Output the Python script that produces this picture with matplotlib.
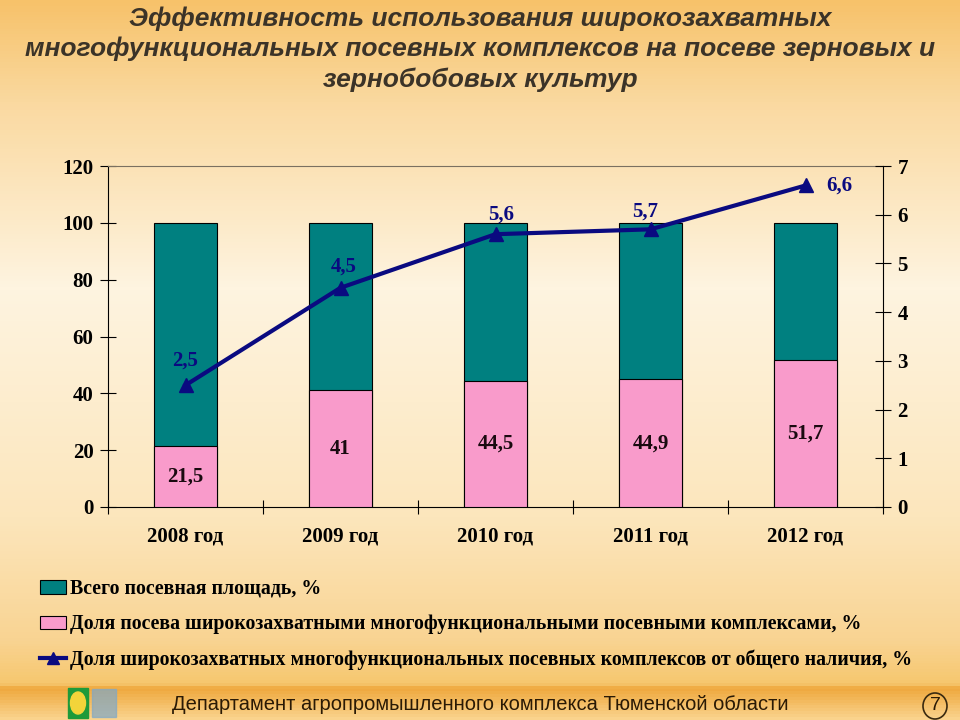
import matplotlib.pyplot as plt
import numpy as np
from matplotlib.colors import LinearSegmentedColormap
from matplotlib.lines import Line2D
from matplotlib.patches import Patch, Rectangle, Ellipse

years = ['2008 год', '2009 год', '2010 год', '2011 год', '2012 год']
total_area = [100, 100, 100, 100, 100]
share_sown = [21.5, 41, 44.5, 44.9, 51.7]
share_fleet = [2.5, 4.5, 5.6, 5.7, 6.6]

share_sown_labels = ['21,5', '41', '44,5', '44,9', '51,7']
share_fleet_labels = ['2,5', '4,5', '5,6', '5,7', '6,6']

legend_labels = [
    'Всего посевная площадь, %',
    'Доля посева широкозахватными многофункциональными посевными комплексами, %',
    'Доля широкозахватных многофункциональных посевных комплексов от общего наличия, %',
]
title = ('Эффективность использования широкозахватных\n'
         'многофункциональных посевных комплексов на посеве зерновых и\n'
         'зернобобовых культур')
footer = 'Департамент агропромышленного комплекса Тюменской области'

teal = '#008080'
pink = '#F99BCB'
navy = '#0A0A80'
serif = 'Liberation Serif'

fig = plt.figure(figsize=(9.6, 7.2), dpi=100)

# background gradient (top -> bottom)
bg = fig.add_axes([0, 0, 1, 1], zorder=-10)
stops = [(0.0, '#F7C26A'), (0.14, '#FAD9A0'), (0.4, '#FEF4E0'), (0.72, '#FCE6BC'),
         (0.89, '#F9D493'), (0.952, '#F6C76E'), (0.958, '#EFA73C'), (1.0, '#FAD38C')]
cmap = LinearSegmentedColormap.from_list('bg', stops)
grad = np.linspace(0, 1, 720).reshape(-1, 1)
bg.imshow(grad, aspect='auto', cmap=cmap, extent=[0, 1, 0, 1], origin='upper')
bg.set_xlim(0, 1)
bg.set_ylim(0, 1)
bg.axis('off')

# footer decorations
bg.add_patch(Rectangle((68 / 960, 2 / 720), 20 / 960, 30 / 720, color='#1E9A3A'))
bg.add_patch(Ellipse((78 / 960, 17 / 720), 15 / 960, 22 / 720, color='#F2D43A'))
bg.add_patch(Rectangle((92 / 960, 3 / 720), 24 / 960, 28 / 720, color='#7FA8C8', alpha=0.7))
bg.add_patch(Ellipse((935 / 960, 14 / 720), 24 / 960, 26 / 720,
                     fill=False, ec='#3A2A10', lw=1.2))
fig.text(935 / 960, 14 / 720, '7', ha='center', va='center', fontsize=14,
         family='Liberation Sans', color='#2A1A05')
fig.text(480 / 960, 16 / 720, footer, ha='center', va='center', fontsize=14.5,
         family='Liberation Sans', color='#2A1A05')

fig.text(0.5, 1 - 49 / 720, title, ha='center', va='center', fontsize=19,
         family='Liberation Sans', weight='bold', style='italic',
         color='#3B3328', linespacing=1.3)

ax = fig.add_axes([108 / 960, 1 - 507 / 720, 775 / 960, 341 / 720])
ax.patch.set_alpha(0)
x = np.arange(len(years))
w = 0.41
ax.bar(x, total_area, w, color=teal, edgecolor='black', lw=0.8, zorder=2)
ax.bar(x, share_sown, w, color=pink, edgecolor='black', lw=0.8, zorder=3)
for xi, v, s in zip(x, share_sown, share_sown_labels):
    ax.text(xi, v / 2, s, ha='center', va='center', fontsize=15, weight='bold',
            family=serif, color='#1A0A10', zorder=4)

ax.set_xlim(-0.5, 4.5)
ax.set_ylim(0, 120)
ax.set_yticks(range(0, 121, 20))
ax.set_xticks(np.arange(-0.5, 5, 1))
ax.set_xticklabels([])
ax.set_xticks(x, minor=True)
ax.set_xticklabels(years, minor=True)
ax.tick_params(axis='x', which='major', direction='inout', length=10, width=0.8)
ax.tick_params(axis='x', which='minor', length=0, pad=14)
ax.tick_params(axis='y', direction='inout', length=11, width=0.8, pad=5)
for lab in ax.get_xticklabels(minor=True) + ax.get_yticklabels():
    lab.set_fontfamily(serif)
    lab.set_fontweight('bold')
    lab.set_fontsize(15)
ax.spines['top'].set_color('#7A7060')
ax.spines['top'].set_linewidth(0.8)
ax.spines['right'].set_visible(False)

ax2 = ax.twinx()
ax2.set_ylim(0, 7)
ax2.set_yticks(range(0, 8))
ax2.tick_params(axis='y', direction='inout', length=11, width=0.8, pad=5)
for lab in ax2.get_yticklabels():
    lab.set_fontfamily(serif)
    lab.set_fontweight('bold')
    lab.set_fontsize(15)
for s in ['top', 'left', 'bottom']:
    ax2.spines[s].set_visible(False)
ax2.plot(x, share_fleet, color=navy, lw=3, marker='^', ms=10, zorder=5)
offsets = [(0, 18), (2, 15), (4, 14), (-4, 13), (24, 0)]
for xi, v, s, off in zip(x, share_fleet, share_fleet_labels, offsets):
    ax2.annotate(s, (xi, v), xytext=off, textcoords='offset points',
                 ha='center', va='center', fontsize=15, weight='bold',
                 family=serif, color=navy)

handles = [Patch(facecolor=teal, edgecolor='black', lw=0.8),
           Patch(facecolor=pink, edgecolor='black', lw=0.8),
           Line2D([], [], color=navy, lw=3, marker='^', ms=9)]
leg = fig.legend(handles, legend_labels, loc='upper left',
                 bbox_to_anchor=(30 / 960, 1 - 569 / 720), frameon=False,
                 prop={'family': serif, 'weight': 'bold', 'size': 14.3},
                 handlelength=1.3, handleheight=0.7, handletextpad=0.2,
                 labelspacing=0.78, borderpad=0)

fig.savefig('out.png', dpi=100)
